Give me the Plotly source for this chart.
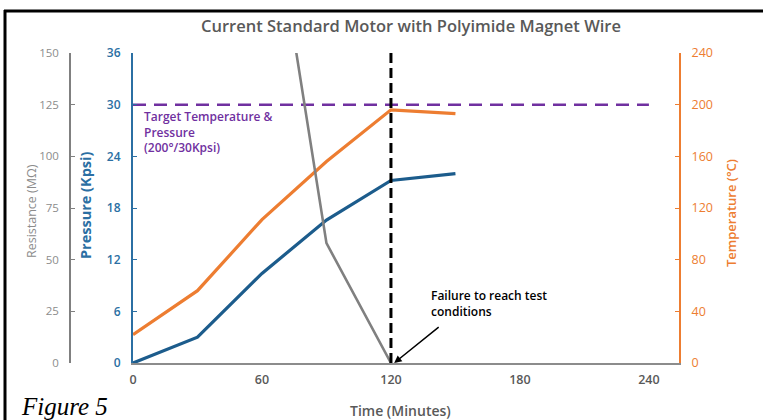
import plotly.graph_objects as go

# ---- data ----
time_pressure = [0, 30, 60, 90, 120, 150]
pressure_kpsi = [0, 3.0, 10.4, 16.6, 21.2, 22.0]
time_temperature = [0, 30, 60, 90, 120, 150]
temperature_c = [22, 56, 111, 156, 196, 193]
time_resistance = [60, 90, 120]
resistance_mohm = [255, 58, 0]
target_time = [0, 240]
target_pressure = [30, 30]
failure_time = 120

x_ticks = [0, 60, 120, 180, 240]
pressure_ticks = [0, 6, 12, 18, 24, 30, 36]
temperature_ticks = [0, 40, 80, 120, 160, 200, 240]
resistance_ticks = [0, 25, 50, 75, 100, 125, 150]

# ---- layout helpers ----
W, H = 763, 420
ML, MR, MT, MB = 20, 20, 53, 57
PW, PH = W - ML - MR, H - MT - MB


def px(x):
    return (x - ML) / PW


def py(y):
    return 1 - (y - MT) / PH


BLUE_LINE = "#1C5C8C"
BLUE_AX = "#2B6FA3"
ORANGE = "#ED7D31"
GRAY = "#808080"
PURPLE = "#7030A0"
FONT = "Open Sans"

fig = go.Figure()

fig.add_trace(go.Scatter(x=target_time, y=target_pressure, mode="lines",
                         line=dict(color=PURPLE, width=2.5, dash="13px,8px"),
                         yaxis="y", showlegend=False, hoverinfo="skip"))
fig.add_trace(go.Scatter(x=time_pressure, y=pressure_kpsi, mode="lines",
                         line=dict(color=BLUE_LINE, width=3.2), yaxis="y",
                         showlegend=False))
fig.add_trace(go.Scatter(x=time_temperature, y=temperature_c, mode="lines",
                         line=dict(color=ORANGE, width=3.2), yaxis="y2",
                         showlegend=False))
fig.add_trace(go.Scatter(x=time_resistance, y=resistance_mohm, mode="lines",
                         line=dict(color=GRAY, width=2.6), yaxis="y3",
                         showlegend=False))

fig.add_shape(type="line", xref="x", yref="paper", x0=failure_time, x1=failure_time,
              y0=0, y1=1, line=dict(color="black", width=3, dash="10px,5px"),
              layer="above")

# frame
fig.add_shape(type="line", xref="paper", yref="paper", x0=px(4), x1=px(763),
              y0=py(11), y1=py(11), line=dict(color="black", width=3),
              layer="above")
fig.add_shape(type="line", xref="paper", yref="paper", x0=px(5), x1=px(5),
              y0=py(10), y1=py(420), line=dict(color="black", width=3),
              layer="above")

fig.update_layout(
    width=W, height=H,
    margin=dict(l=ML, r=MR, t=MT, b=MB),
    paper_bgcolor="white", plot_bgcolor="white",
    font=dict(family=FONT),
    xaxis=dict(domain=[px(133), px(679)], range=[0, 254], tickvals=x_ticks,
               showline=True, linecolor="#8c8c8c", linewidth=1.5, ticks="",
               showgrid=False, zeroline=False, ticklabelstandoff=4,
               tickfont=dict(family=FONT, size=12.5, color="#595959", weight=600)),
    yaxis=dict(range=[0, 36], tickvals=pressure_ticks, showline=True,
               linecolor=BLUE_AX, linewidth=2, ticks="inside", ticklen=4,
               tickcolor=BLUE_AX, showgrid=False, zeroline=False,
               ticklabelstandoff=8,
               tickfont=dict(family=FONT, size=12, color=BLUE_AX, weight=600)),
    yaxis2=dict(range=[0, 240], tickvals=temperature_ticks, overlaying="y",
                side="right", anchor="x", showline=True, linecolor=ORANGE,
                linewidth=2, ticks="inside", ticklen=4, tickcolor=ORANGE,
                showgrid=False, zeroline=False, ticklabelstandoff=8,
                tickfont=dict(family=FONT, size=12.5, color=ORANGE)),
    yaxis3=dict(range=[0, 150], tickvals=resistance_ticks, overlaying="y",
                side="left", anchor="free", position=px(70), showline=True,
                linecolor=GRAY, linewidth=1.5, ticks="inside", ticklen=4,
                tickcolor=GRAY, showgrid=False, zeroline=False,
                ticklabelstandoff=8,
                tickfont=dict(family=FONT, size=11.5, color="#8c8c8c")),
)

ann = []
ann.append(dict(text="Current Standard Motor with Polyimide Magnet Wire",
                x=px(411), y=py(26), xref="paper", yref="paper", showarrow=False,
                xanchor="center", yanchor="middle",
                font=dict(family=FONT, size=16.5, color="#595959", weight=600)))
ann.append(dict(text="Time (Minutes)", x=px(400), y=py(410), xref="paper",
                yref="paper", showarrow=False, xanchor="center", yanchor="middle",
                font=dict(family=FONT, size=14, color="#595959", weight=600)))
ann.append(dict(text="Pressure (Kpsi)", x=px(85), y=py(206), xref="paper",
                yref="paper", showarrow=False, textangle=-90,
                xanchor="center", yanchor="middle",
                font=dict(family=FONT, size=14.5, color=BLUE_AX, weight=700)))
ann.append(dict(text="Resistance (MΩ)", x=px(31), y=py(211), xref="paper",
                yref="paper", showarrow=False, textangle=-90,
                xanchor="center", yanchor="middle",
                font=dict(family=FONT, size=12.5, color="#8c8c8c")))
ann.append(dict(text="Temperature (°C)", x=px(731), y=py(213), xref="paper",
                yref="paper", showarrow=False, textangle=-90,
                xanchor="center", yanchor="middle",
                font=dict(family=FONT, size=13, color=ORANGE, weight=600)))
ann.append(dict(text="<i>Figure 5</i>", x=px(19), y=py(406), xref="paper",
                yref="paper", xanchor="left", yanchor="middle", showarrow=False,
                font=dict(family="Liberation Serif", size=25, color="black")))
ann.append(dict(text="Target Temperature &amp;<br>Pressure<br>(200°/30Kpsi)",
                x=px(142), y=py(106), xref="paper", yref="paper",
                xanchor="left", yanchor="top", align="left", showarrow=False,
                font=dict(family=FONT, size=12, color=PURPLE, weight=600)))
ann.append(dict(text="Failure to reach test<br>conditions",
                x=px(429), y=py(303), xref="paper", yref="paper",
                xanchor="left", yanchor="middle", align="left", showarrow=False,
                font=dict(family=FONT, size=12, color="black", weight=600)))
ann.append(dict(text="", x=failure_time + 1.5, y=0, xref="x", yref="y",
                ax=46, ay=-37, axref="pixel", ayref="pixel",
                showarrow=True, arrowhead=2, arrowsize=1, arrowwidth=1.5,
                arrowcolor="black"))
fig.update_layout(annotations=ann)

fig.write_html("out.html",
               config={"displayModeBar": False},
               post_script="document.body.style.margin='0';"
                           "document.body.style.overflow='hidden';")
